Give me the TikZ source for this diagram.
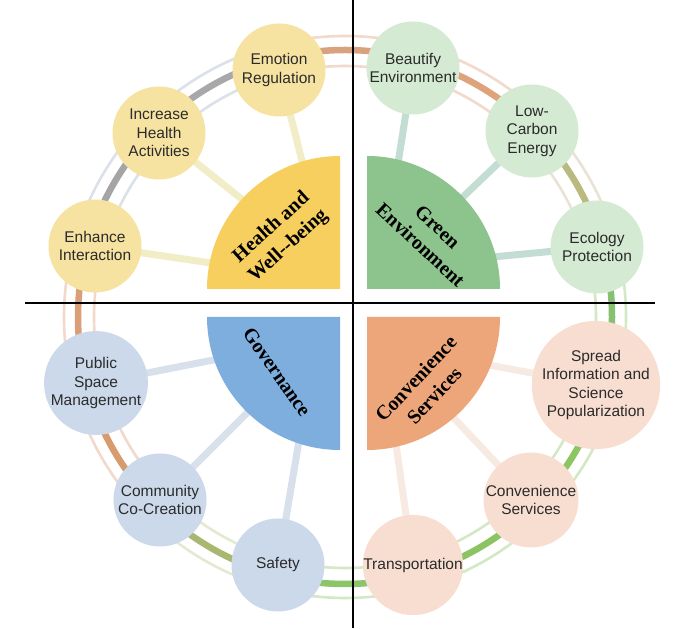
\documentclass[tikz,border=0pt]{standalone}
\usepackage{fontspec}
\setmainfont{Liberation Sans}
\newfontfamily\labelserif{Liberation Serif}
\usetikzlibrary{calc}
\definecolor{textc}{HTML}{2B2B2B}
\definecolor{ysec}{HTML}{F6CF5F}
\definecolor{ycirc}{HTML}{F7E3A1}
\definecolor{yspk}{HTML}{F1EDC6}
\definecolor{gsec}{HTML}{8DC38C}
\definecolor{gcirc}{HTML}{D5EAD3}
\definecolor{gspk}{HTML}{C3DDD3}
\definecolor{bsec}{HTML}{7DAEDD}
\definecolor{bcirc}{HTML}{CCD9EA}
\definecolor{bspk}{HTML}{D8E0EC}
\definecolor{osec}{HTML}{EDA67A}
\definecolor{ocirc}{HTML}{F8DED0}
\definecolor{ospk}{HTML}{F7EAE2}
% ring colours
\definecolor{rA}{HTML}{86C070}\definecolor{tA}{HTML}{D3E8C4}
\definecolor{rB}{HTML}{B9BA80}\definecolor{tB}{HTML}{E8E3D5}
\definecolor{rC}{HTML}{DFA37B}\definecolor{tC}{HTML}{F2D9CB}
\definecolor{rD}{HTML}{D9A27E}\definecolor{tD}{HTML}{F2D9CB}
\definecolor{rE}{HTML}{A8A8AA}\definecolor{tE}{HTML}{DCE1E9}
\definecolor{rF}{HTML}{A5A5A5}\definecolor{tF}{HTML}{DCE1E9}
\definecolor{rG}{HTML}{D99F78}\definecolor{tG}{HTML}{F2D9CB}
\definecolor{rH}{HTML}{D79B6D}\definecolor{tH}{HTML}{F2D9CB}
\definecolor{rI}{HTML}{A9B870}\definecolor{tI}{HTML}{E4EACF}
\definecolor{rJ}{HTML}{8CC46A}\definecolor{tJ}{HTML}{D3E8C4}
\definecolor{rK}{HTML}{8DC463}\definecolor{tK}{HTML}{D3E8C4}
\definecolor{rL}{HTML}{8CC562}\definecolor{tL}{HTML}{D3E8C4}
\begin{document}
\begin{tikzpicture}[x=1pt,y=1pt,
  sat/.style={circle, minimum size=93pt, inner sep=0pt, align=center,
    font=\fontsize{15.5}{18.5}\selectfont, text=textc},
  seclab/.style={align=center, inner sep=0pt,
    font=\labelserif\bfseries\fontsize{20}{25}\selectfont, text=black},
  spoke/.style={line width=7pt},
  quadline/.style={line width=1.8pt, black},
  thinring/.style={line width=2.6pt},
  thickring/.style={line width=6.5pt}]
\fill[white] (0,0) rectangle (700,628);
\useasboundingbox (0,0) rectangle (700,628);

\coordinate (O) at (345,311);
% ring segments
\foreach \g/\rc/\tc in {0/rA/tA,30/rB/tB,60/rC/tC,90/rD/tD,120/rE/tE,150/rF/tF,
                        180/rG/tG,210/rH/tH,240/rI/tI,270/rJ/tJ,300/rK/tK,330/rL/tL}{
  \draw[thinring,\tc] (O) ++(\g-15:251) arc[start angle=\g-15,end angle=\g+15,radius=251];
  \draw[thinring,\tc] (O) ++(\g-15:281) arc[start angle=\g-15,end angle=\g+15,radius=281];
  \draw[thickring,\rc] (O) ++(\g-15:267) arc[start angle=\g-15,end angle=\g+15,radius=267];
}

% circle centres
\coordinate (cEmo) at (279,558);
\coordinate (cInc) at (159,495);
\coordinate (cEnh) at (95,382);
\coordinate (cBea) at (413,560);
\coordinate (cLow) at (532,497);
\coordinate (cEco) at (597,381);
\coordinate (cSpr) at (596,243);
\coordinate (cCon) at (531,128);
\coordinate (cTra) at (413,63);
\coordinate (cPub) at (96,245);
\coordinate (cCom) at (160,128);
\coordinate (cSaf) at (278,63);

% spoke inner ends (hidden under sectors)
\coordinate (iEmo) at (322,388);
\coordinate (iInc) at (318,368);
\coordinate (iEnh) at (300,352);
\coordinate (iBea) at (386,388);
\coordinate (iLow) at (420,390);
\coordinate (iEco) at (430,365);
\coordinate (iSpr) at (430,274);
\coordinate (iCon) at (420,246);
\coordinate (iTra) at (387,248);
\coordinate (iPub) at (290,283);
\coordinate (iCom) at (300,268);
\coordinate (iSaf) at (311,258);

\foreach \n in {Emo,Inc,Enh}{\draw[spoke,yspk] (c\n) -- (i\n);}
\foreach \n in {Bea,Low,Eco}{\draw[spoke,gspk] (c\n) -- (i\n);}
\foreach \n in {Spr,Con,Tra}{\draw[spoke,ospk] (c\n) -- (i\n);}
\foreach \n in {Pub,Com,Saf}{\draw[spoke,bspk] (c\n) -- (i\n);}

% sectors
\coordinate (kH) at (340,339);
\coordinate (kG) at (367,339);
\coordinate (kV) at (340,311);
\coordinate (kC) at (367,311);
\fill[ysec] (kH) -- ++(-133,0) arc[start angle=180,end angle=90,radius=133] -- cycle;
\fill[gsec] (kG) -- ++(0,133) arc[start angle=90,end angle=0,radius=133] -- cycle;
\fill[bsec] (kV) -- ++(-133,0) arc[start angle=180,end angle=270,radius=133] -- cycle;
\fill[osec] (kC) -- ++(0,-133) arc[start angle=270,end angle=360,radius=133] -- cycle;

\node[seclab, rotate=42] (lH) at (280,391) {Health and\\Well--being};
\node[seclab, rotate=-43] (lG) at (429,392) {Green\\Environment};
\node[seclab, rotate=-55] (lV) at (277,256) {Governance};
\node[seclab, rotate=47] (lC) at (425,241) {Convenience\\Services};

% quadrant lines
\coordinate (vt) at (353,628);
\coordinate (vb) at (353,0);
\coordinate (hl) at (25,325);
\coordinate (hr) at (655,325);
\draw[quadline] (vt) -- (vb);
\draw[quadline] (hl) -- (hr);

% satellite circles
\node[sat, fill=ycirc] (Emo) at (cEmo) {Emotion\\Regulation};
\node[sat, fill=ycirc] (Inc) at (cInc) {Increase\\Health\\Activities};
\node[sat, fill=ycirc] (Enh) at (cEnh) {Enhance\\Interaction};
\node[sat, fill=gcirc] (Bea) at (cBea) {Beautify\\Environment};
\node[sat, fill=gcirc] (Low) at (cLow) {Low-\\Carbon\\Energy};
\node[sat, fill=gcirc] (Eco) at (cEco) {Ecology\\Protection};
\node[sat, fill=ocirc] (Spr) at (cSpr) {Spread\\Information and\\Science\\Popularization};
\node[sat, fill=ocirc] (Con) at (cCon) {Convenience\\Services};
\node[sat, fill=ocirc] (Tra) at (cTra) {Transportation};
\node[sat, fill=bcirc] (Pub) at (cPub) {Public\\Space\\Management};
\node[sat, fill=bcirc] (Com) at (cCom) {Community\\Co-Creation};
\node[sat, fill=bcirc] (Saf) at (cSaf) {Safety};
\end{tikzpicture}
\end{document}
